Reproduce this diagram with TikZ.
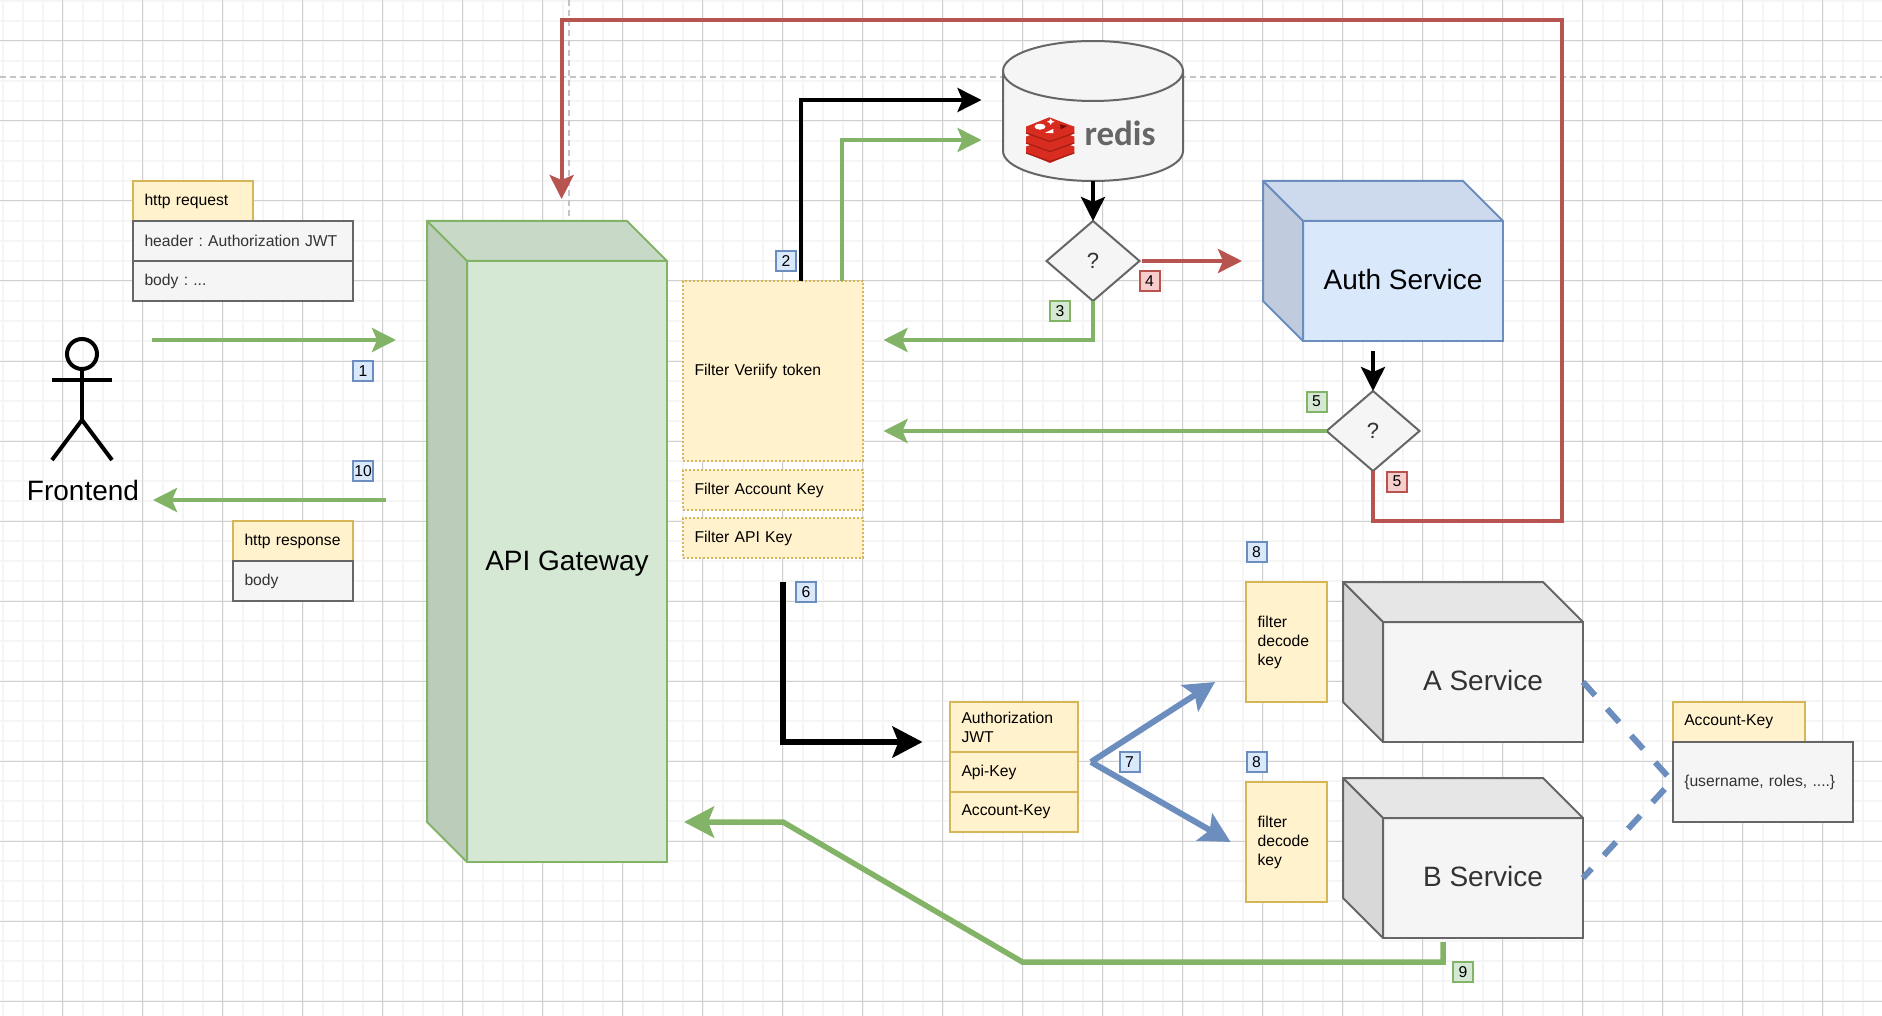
\documentclass[tikz,border=0pt]{standalone}
\usepackage{fontspec}
\setmainfont{Liberation Sans}
\newfontfamily\redisfont{Carlito}
\usetikzlibrary{arrows.meta, positioning, calc, shapes.geometric}
\usepackage{xcolor}
\definecolor{cGreen}{HTML}{D5E8D4}
\definecolor{bGreen}{HTML}{82B366}
\definecolor{cBlue}{HTML}{DAE8FC}
\definecolor{bBlue}{HTML}{6C8EBF}
\definecolor{cRed}{HTML}{F8CECC}
\definecolor{bRed}{HTML}{B85450}
\definecolor{cYellow}{HTML}{FFF2CC}
\definecolor{bYellow}{HTML}{D6B656}
\definecolor{cGrey}{HTML}{F5F5F5}
\definecolor{bGrey}{HTML}{666666}
\definecolor{tGrey}{HTML}{333333}
\definecolor{gMajor}{HTML}{D0D0D0}
\definecolor{gMinor}{HTML}{F5F5F5}
\definecolor{gGuide}{HTML}{C4C4C4}
\definecolor{cLogo}{HTML}{D82C20}
\definecolor{bLogo}{HTML}{A41E11}
\definecolor{dLogo}{HTML}{7A0C00}

% front face first, then top and side from its corners
\newcommand{\cubeFaces}[3]{
    \draw[draw=#3, fill=#2!94!black, line width=2pt, line join=round] (#1.north west) -- ($(#1.north west)+(-40,-40)$) -- ($(#1.north east)+(-40,-40)$) -- (#1.north east) -- cycle;
    \draw[draw=#3, fill=#2!88!black, line width=2pt, line join=round] (#1.north west) -- ($(#1.north west)+(-40,-40)$) -- ($(#1.south west)+(-40,-40)$) -- (#1.south west) -- cycle;
}

\begin{document}
\frenchspacing
\begin{tikzpicture}[
    x=1pt, y=-1pt,
    font=\fontsize{15.7}{19}\selectfont,
    cell/.style={
        draw=#1,
        line width=2pt,
        outer sep=0pt,
        inner xsep=11.5pt,
        inner ysep=0pt,
        align=left
    },
    filterbox/.style={
        cell=bYellow,
        fill=cYellow,
        dash pattern=on 2pt off 2pt,
        text width=157pt
    },
    badge/.style={
        draw=#1,
        line width=2pt,
        minimum size=20pt,
        inner sep=0pt,
        outer sep=0pt
    },
    cube/.style={
        draw=#1,
        line width=2pt,
        outer sep=0pt,
        align=center,
        text height=20pt,
        text depth=2.6pt,
        font=\fontsize{28}{32}\selectfont
    },
    choice/.style={
        diamond,
        draw=bGrey, fill=cGrey, text=tGrey,
        line width=2pt,
        outer sep=0pt,
        inner sep=0pt,
        aspect=1.16,
        minimum width=93pt,
        minimum height=80pt,
        font=\fontsize{22}{26}\selectfont
    },
    arrowthin/.style={-{Stealth[length=24pt,width=24pt,inset=5pt]}, line width=4pt},
    arrowthick/.style={-{Stealth[length=30pt,width=31pt,inset=6pt]}, line width=6pt}
]
\useasboundingbox (0,0) rectangle (1882,1016);

% Grid
\fill[white] (0,0) rectangle (1882,1016);
\foreach \gx in {2.5,22.5,...,1882} {\draw[gMinor, line width=2pt] (\gx,0) -- (\gx,1016);}
\foreach \gy in {1,21,...,1016} {\draw[gMinor, line width=2pt] (0,\gy) -- (1882,\gy);}
\foreach \gx in {62.5,142.5,...,1882} {\draw[gMajor, line width=1pt] (\gx,0) -- (\gx,1016);}
\foreach \gy in {41,121,...,1016} {\draw[gMajor, line width=1pt] (0,\gy) -- (1882,\gy);}
\draw[gGuide, line width=2pt, dash pattern=on 6pt off 4pt] (0,77) -- (1882,77);
\draw[gGuide, line width=2pt, dash pattern=on 6pt off 4pt] (569,0) -- (569,221);

% Frontend
\node[circle, draw, line width=4pt, minimum size=30pt, inner sep=0pt] (actorHead) at (82,354) {};
\coordinate (actorArmL) at (52,380);
\coordinate (actorArmR) at (112,380);
\coordinate (actorHip) at (82,420);
\coordinate (actorFootL) at (52,460);
\coordinate (actorFootR) at (112,460);
\draw[line width=4pt] (actorHead) -- (actorHip);
\draw[line width=4pt] (actorArmL) -- (actorArmR);
\draw[line width=4pt, line join=round] (actorFootL) -- (actorHip) -- (actorFootR);
\node[font=\fontsize{28}{32}\selectfont] (frontend) at (83,490) {Frontend};

% Request and response
\node[cell=bYellow, fill=cYellow, text width=97pt, minimum height=40pt] (reqTitle) at (193,201) {http request};
\node[cell=bGrey, fill=cGrey, text=tGrey, text width=197pt, minimum height=40pt] (reqHeader) at (243,241) {header : Authorization JWT};
\node[cell=bGrey, fill=cGrey, text=tGrey, text width=197pt, minimum height=40pt, below=0pt of reqHeader] (reqBody) {body : ...};

\node[cell=bYellow, fill=cYellow, text width=97pt, minimum height=40pt] (resTitle) at (293,541) {http response};
\node[cell=bGrey, fill=cGrey, text=tGrey, text width=97pt, minimum height=40pt, below=0pt of resTitle] (resBody) {body};

% API Gateway and its filters
\node[cube=bGreen, fill=cGreen, minimum width=200pt, minimum height=601pt] (gateway) at (567,561.5) {API Gateway};
\cubeFaces{gateway}{cGreen}{bGreen}

\node[filterbox, minimum height=180pt] (fVerify) at (773,371) {Filter Veriify token};
\node[filterbox, minimum height=40pt] (fAccount) at (773,490) {Filter Account Key};
\node[filterbox, minimum height=40pt] (fApi) at (773,538) {Filter API Key};

% Redis
\node[minimum width=180pt, minimum height=140pt, inner sep=0pt, outer sep=0pt] (redis) at (1093,111) {};
\draw[draw=bGrey, fill=cGrey, line width=2pt] (1003,71) .. controls (1003,54.4) and (1043,41) .. (1093,41) .. controls (1143,41) and (1183,54.4) .. (1183,71) -- (1183,151) .. controls (1183,167.6) and (1143,181) .. (1093,181) .. controls (1043,181) and (1003,167.6) .. (1003,151) -- cycle;
\draw[draw=bGrey, line width=2pt] (1003,71) .. controls (1003,87.6) and (1043,101) .. (1093,101) .. controls (1143,101) and (1183,87.6) .. (1183,71);
% logo layers
\foreach \ly in {20,10,0} {
    \fill[cLogo] (1026,126.7+\ly) -- (1026,133+\ly) -- (1050,143+\ly) -- (1074.3,133+\ly) -- (1074.3,126.7+\ly) -- cycle;
    \draw[bLogo, line width=1.2pt] (1026,133+\ly) -- (1050,141.5+\ly) -- (1074.3,133+\ly);
    \fill[cLogo] (1026,126.7+\ly) -- (1049.3,117.3+\ly) -- (1074.3,126.7+\ly) -- (1050,135+\ly) -- cycle;
}
\fill[white] (1040,126.7) ellipse[x radius=5.5, y radius=3];
\fill[white] (1050.7,118.5) -- (1051.8,120.6) -- (1054.5,121.7) -- (1051.8,122.8) -- (1050.7,124.9) -- (1049.6,122.8) -- (1046.9,121.7) -- (1049.6,120.6) -- cycle;
\fill[white] (1045,132.7) -- (1053.3,129) -- (1053.3,133.3) -- cycle;
\fill[dLogo] (1060,124.3) -- (1067.3,126) -- (1060.7,129.3) -- cycle;
\node[font=\redisfont\bfseries\fontsize{35}{40}\selectfont, text=bGrey, inner sep=0pt] (redisLabel) at (1120,133.5) {redis};

% Decisions
\node[choice] (check1) at (1093,261) {?};
\node[choice] (check2) at (1373,431) {?};

% Auth Service
\node[cube=bBlue, fill=cBlue, minimum width=200pt, minimum height=120pt] (auth) at (1403,281) {Auth Service};
\cubeFaces{auth}{cBlue}{bBlue}

% Token payload
\node[cell=bYellow, fill=cYellow, text width=105pt, minimum height=50pt] (hAuth) at (1014,727) {Authorization\\JWT};
\node[cell=bYellow, fill=cYellow, text width=105pt, minimum height=40pt, below=0pt of hAuth] (hApi) {Api-Key};
\node[cell=bYellow, fill=cYellow, text width=105pt, minimum height=40pt, below=0pt of hApi] (hAccount) {Account-Key};

% Services
\node[cell=bYellow, fill=cYellow, text width=57.5pt, minimum height=120pt] (decodeA) at (1286.3,642) {filter\\decode\\key};
\node[cell=bYellow, fill=cYellow, text width=57.5pt, minimum height=120pt] (decodeB) at (1286.3,842) {filter\\decode\\key};
\node[cube=bGrey, fill=cGrey, text=tGrey, minimum width=200pt, minimum height=120pt] (svcA) at (1483,682) {A Service};
\cubeFaces{svcA}{cGrey}{bGrey}
\node[cube=bGrey, fill=cGrey, text=tGrey, minimum width=200pt, minimum height=120pt] (svcB) at (1483,878) {B Service};
\cubeFaces{svcB}{cGrey}{bGrey}

% Account key
\node[cell=bYellow, fill=cYellow, text width=109.5pt, minimum height=40pt] (keyTitle) at (1739,722) {Account-Key};
\node[cell=bGrey, fill=cGrey, text=tGrey, text width=157.5pt, minimum height=80pt] (keyBody) at (1763,782) {\{username, roles, ....\}};

% Connector ends
\coordinate (reqStart) at (152,340);
\coordinate (reqEnd) at (396,340);
\coordinate (resStart) at (386,500);
\coordinate (resEnd) at (153,500);
\coordinate (redisOut1) at (801,281);
\coordinate (redisOut2) at (842,281);
\coordinate (redisIn1) at (981.5,100);
\coordinate (redisIn2) at (981.5,140);
\coordinate (verifyIn1) at (883.5,340);
\coordinate (verifyIn2) at (883.5,431);
\coordinate (authIn) at (1242,261);
\coordinate (authOut) at (1373,351);
\coordinate (redTop) at (1562,20);
\coordinate (redBottom) at (1562,521);
\coordinate (gatewayTop) at (561.6,199);
\coordinate (passStart) at (783,582);
\coordinate (passEnd) at (922.5,742);
\coordinate (fork) at (1091,762);
\coordinate (forkA) at (1215,682);
\coordinate (forkB) at (1230.6,842);
\coordinate (joinKey) at (1672,781);
\coordinate (backStart) at (1443,942);
\coordinate (backBend) at (1022.4,962);
\coordinate (backKink) at (783,822);
\coordinate (backEnd) at (684,822);

% Flow
\draw[arrowthin, bGreen] (reqStart) -- (reqEnd);
\draw[arrowthin, bGreen] (resStart) -- (resEnd);
\draw[arrowthin] (redisOut1) |- (redisIn1);
\draw[arrowthin, bGreen] (redisOut2) |- (redisIn2);
\draw[arrowthin] (redis.south) -- (check1.north);
\draw[arrowthin, bGreen] (check1.south) |- (verifyIn1);
\draw[arrowthin, bRed] (check1.east) ++(2,0) -- (authIn);
\draw[arrowthin] (authOut) -- (check2.north);
\draw[arrowthin, bGreen] (check2.west) -- (verifyIn2);
\draw[arrowthin, bRed] (check2.south) |- (redBottom) -- (redTop) -| (gatewayTop);

\draw[arrowthick] (passStart) |- (passEnd);
\draw[arrowthick, bBlue, line join=round] (fork) -- (forkA);
\draw[arrowthick, bBlue, line join=round] (fork) -- (forkB);
\draw[bBlue, line width=6pt, dash pattern=on 18pt off 18pt] (svcA.east) -- (joinKey) -- (svcB.east);
\draw[arrowthick, bGreen, line width=5.5pt] (backStart) -- (backStart |- backBend) -- (backBend) -- (backKink) -- (backEnd);

% Step numbers
\node[badge=bBlue, fill=cBlue] (n1) at (363,371) {1};
\node[badge=bBlue, fill=cBlue] (n10) at (363,471) {10};
\node[badge=bBlue, fill=cBlue] (n2) at (786,261.5) {2};
\node[badge=bGreen, fill=cGreen] (n3) at (1060,311.5) {3};
\node[badge=bRed, fill=cRed] (n4) at (1149.5,281.5) {4};
\node[badge=bGreen, fill=cGreen] (n5a) at (1316.5,401.5) {5};
\node[badge=bRed, fill=cRed] (n5b) at (1397,481.5) {5};
\node[badge=bBlue, fill=cBlue] (n6) at (806,592) {6};
\node[badge=bBlue, fill=cBlue] (n7) at (1129.5,762) {7};
\node[badge=bBlue, fill=cBlue] (n8a) at (1256.5,552) {8};
\node[badge=bBlue, fill=cBlue] (n8b) at (1256.5,762) {8};
\node[badge=bGreen, fill=cGreen] (n9) at (1463,972) {9};

\end{tikzpicture}
\end{document}
